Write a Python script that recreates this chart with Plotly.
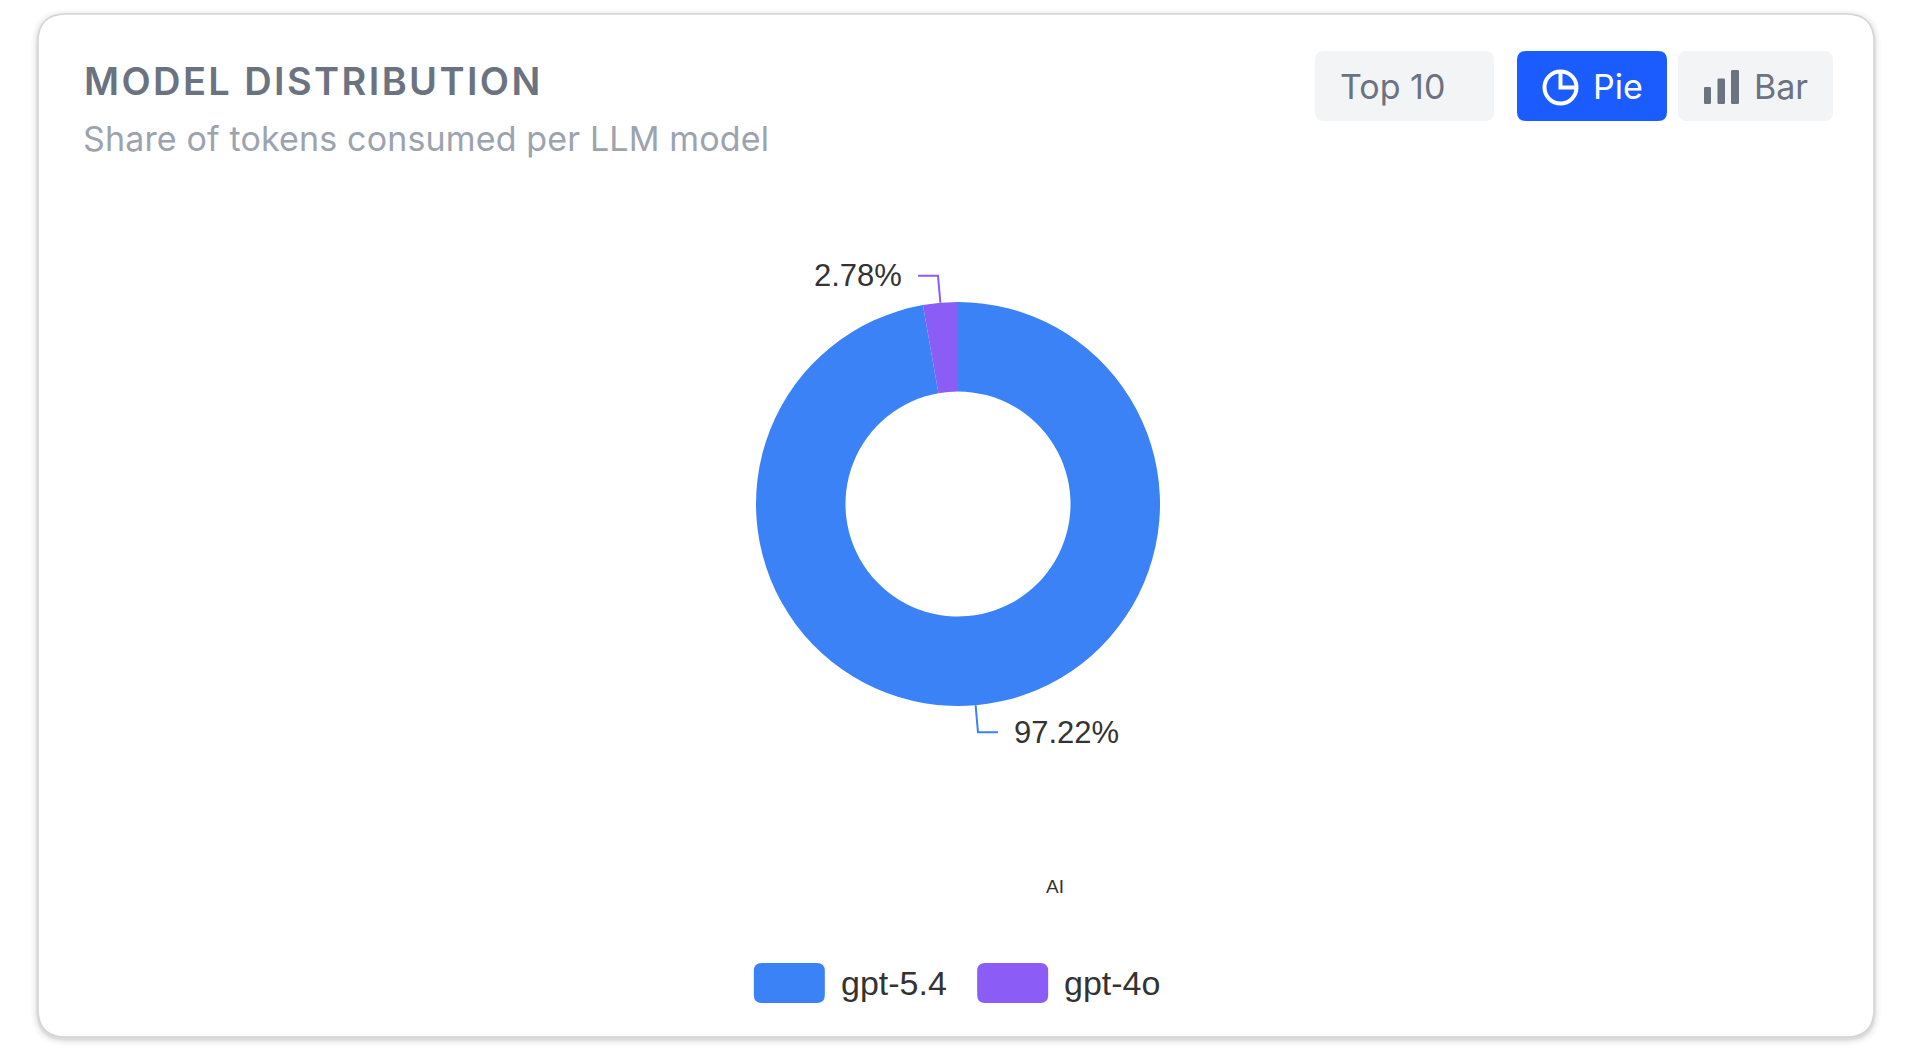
import math
import plotly.graph_objects as go

# ---------------- data ----------------
models = ["gpt-5.4", "gpt-4o"]
shares = [97.22, 2.78]
colors = ["#3b82f6", "#8b5cf6"]
title_text = "MODEL DISTRIBUTION"
subtitle_text = "Share of tokens consumed per LLM model"
button_labels = ["Top 10", "Pie", "Bar"]
watermark_text = "AI"

# ---------------- geometry helpers (pixel -> paper) ----------------
W, H = 1916, 1054


def px(x):
    return x / W


def py(y):
    return 1 - y / H


def rr_path(x0, y0, x1, y1, r):
    P = lambda x, y: f"{px(x):.6f},{py(y):.6f}"
    return (f"M {P(x0 + r, y0)} L {P(x1 - r, y0)} Q {P(x1, y0)} {P(x1, y0 + r)} "
            f"L {P(x1, y1 - r)} Q {P(x1, y1)} {P(x1 - r, y1)} "
            f"L {P(x0 + r, y1)} Q {P(x0, y1)} {P(x0, y1 - r)} "
            f"L {P(x0, y0 + r)} Q {P(x0, y0)} {P(x0 + r, y0)} Z")


shapes = []
annotations = []

# ---------------- card ----------------
CX0, CY0, CX1, CY1, CR = 38, 14, 1874, 1037, 28
for d, a in [(7, 0.015), (5, 0.025), (3, 0.04), (1.5, 0.06)]:
    shapes.append(dict(type="path", xref="paper", yref="paper", layer="below",
                       path=rr_path(CX0 - d, CY0 - d + 2, CX1 + d, CY1 + d + 2, CR + d),
                       fillcolor=f"rgba(0,0,0,{a})", line=dict(width=0)))
shapes.append(dict(type="path", xref="paper", yref="paper", layer="below",
                   path=rr_path(CX0, CY0, CX1, CY1, CR),
                   fillcolor="white", line=dict(color="#d4d4d4", width=1.5)))

# ---------------- header text ----------------
annotations.append(dict(xref="paper", yref="paper", x=px(82), y=py(80.5),
                        xanchor="left", yanchor="middle", showarrow=False,
                        text=f'<span style="letter-spacing:2.4px">{title_text}</span>',
                        font=dict(family="Inter", size=38, color="#6b7280", weight=600)))
annotations.append(dict(xref="paper", yref="paper", x=px(80.5), y=py(138.5),
                        xanchor="left", yanchor="middle", showarrow=False,
                        text=f'<span style="letter-spacing:0.15px">{subtitle_text}</span>',
                        font=dict(family="Inter", size=34, color="#9ca3af")))

# ---------------- buttons ----------------
BY0, BY1, BR = 51, 121, 9
btn_boxes = [(1315, 1494), (1517, 1667), (1678, 1833)]
btn_fill = ["#f3f4f6", "#1a5cff", "#f3f4f6"]
btn_text_color = ["#6b7280", "#ffffff", "#6b7280"]
for (bx0, bx1), fc in zip(btn_boxes, btn_fill):
    shapes.append(dict(type="path", xref="paper", yref="paper", layer="above",
                       path=rr_path(bx0, BY0, bx1, BY1, BR),
                       fillcolor=fc, line=dict(width=0)))

# Top 10 text
annotations.append(dict(xref="paper", yref="paper", x=px(1392), y=py(87),
                        xanchor="center", yanchor="middle", showarrow=False,
                        text=button_labels[0],
                        font=dict(family="Inter", size=34, color=btn_text_color[0])))
# Pie icon
icx, icy, ir = 1560.5, 87.5, 16
shapes.append(dict(type="circle", xref="paper", yref="paper", layer="above",
                   x0=px(icx - ir), x1=px(icx + ir), y0=py(icy + ir), y1=py(icy - ir),
                   line=dict(color="white", width=4), fillcolor="rgba(0,0,0,0)"))
shapes.append(dict(type="path", xref="paper", yref="paper", layer="above",
                   path=f"M {px(icx):.6f},{py(icy - ir):.6f} L {px(icx):.6f},{py(icy):.6f} "
                        f"L {px(icx + ir):.6f},{py(icy):.6f}",
                   line=dict(color="white", width=4)))
annotations.append(dict(xref="paper", yref="paper", x=px(1591), y=py(87),
                        xanchor="left", yanchor="middle", showarrow=False,
                        text=button_labels[1],
                        font=dict(family="Inter", size=34, color=btn_text_color[1])))
# Bar icon
for (bx0, bx1, top) in [(1704, 1711, 87), (1717.5, 1725, 78.5), (1731, 1739, 70)]:
    shapes.append(dict(type="path", xref="paper", yref="paper", layer="above",
                       path=rr_path(bx0, top, bx1, 104, 1.2),
                       fillcolor="#6b7280", line=dict(width=0)))
annotations.append(dict(xref="paper", yref="paper", x=px(1752), y=py(87),
                        xanchor="left", yanchor="middle", showarrow=False,
                        text=button_labels[2],
                        font=dict(family="Inter", size=34, color=btn_text_color[2])))

# ---------------- donut ----------------
PCX, PCY, PR = 958, 504, 202
HOLE = 0.557
fig = go.Figure()
fig.add_trace(go.Pie(
    labels=models, values=shares, sort=False, direction="clockwise", rotation=0,
    hole=HOLE, marker=dict(colors=colors, line=dict(width=0)),
    textinfo="none", hoverinfo="label+percent", showlegend=False,
    domain=dict(x=[px(PCX - PR), px(PCX + PR)], y=[py(PCY + PR), py(PCY - PR)]),
))

# leader lines + labels derived from the data
L1, L2, GAP = 27, 20, 14
LABEL_FONT = dict(family="Liberation Sans, Arial, Helvetica, sans-serif", size=31, color="#333333")
total = sum(shares)
cum = 0.0
for v, c in zip(shares, colors):
    mid = (cum + v / 2) / total * 2 * math.pi
    cum += v
    s, co = math.sin(mid), math.cos(mid)
    ex, ey = PCX + PR * s, PCY - PR * co
    bx, by = ex + L1 * s, ey - L1 * co
    side = 1 if s >= 0 else -1
    hx = bx + side * L2
    shapes.append(dict(type="path", xref="paper", yref="paper", layer="above",
                       path=f"M {px(ex):.6f},{py(ey):.6f} L {px(bx):.6f},{py(by):.6f} "
                            f"L {px(hx):.6f},{py(by):.6f}",
                       line=dict(color=c, width=2)))
    annotations.append(dict(xref="paper", yref="paper", x=px(hx + side * GAP), y=py(by),
                            xanchor="left" if side > 0 else "right", yanchor="middle",
                            showarrow=False, text=f"{v / total * 100:.2f}%", font=LABEL_FONT))

# small text under the donut
annotations.append(dict(xref="paper", yref="paper", x=px(1055), y=py(886),
                        xanchor="center", yanchor="middle", showarrow=False,
                        text=watermark_text,
                        font=dict(family="Liberation Sans, Arial, sans-serif", size=19, color="#333333")))

# ---------------- custom legend ----------------
ARIAL_W = {"g": .556, "p": .556, "t": .278, "-": .333, ".": .278, "o": .556,
           "0": .556, "1": .556, "2": .556, "3": .556, "4": .556, "5": .556,
           "6": .556, "7": .556, "8": .556, "9": .556}
LEG_FS, SW_W, SW_H, SW_GAP, ITEM_GAP, LEG_Y = 34, 71, 40, 14, 32.5, 983
text_w = [sum(ARIAL_W.get(ch, 0.556) for ch in m) * LEG_FS for m in models]
total_w = sum(SW_W + SW_GAP + tw for tw in text_w) + ITEM_GAP * (len(models) - 1)
x = PCX - total_w / 2 - 1.8
for m, c, tw in zip(models, colors, text_w):
    shapes.append(dict(type="path", xref="paper", yref="paper", layer="above",
                       path=rr_path(x, LEG_Y - SW_H / 2, x + SW_W, LEG_Y + SW_H / 2, 8),
                       fillcolor=c, line=dict(width=0)))
    annotations.append(dict(xref="paper", yref="paper", x=px(x + SW_W + SW_GAP), y=py(LEG_Y),
                            xanchor="left", yanchor="middle", showarrow=False, text=m,
                            font=dict(family="Liberation Sans, Arial, sans-serif", size=LEG_FS,
                                      color="#333333")))
    x += SW_W + SW_GAP + tw + ITEM_GAP

fig.update_layout(
    width=W, height=H, margin=dict(l=0, r=0, t=0, b=0, pad=0),
    paper_bgcolor="white", plot_bgcolor="white",
    shapes=shapes, annotations=annotations, showlegend=False,
)

fig.write_html("out.html", config={"displayModeBar": False},
               post_script="document.body.style.margin='0';document.body.style.overflow='hidden';")
